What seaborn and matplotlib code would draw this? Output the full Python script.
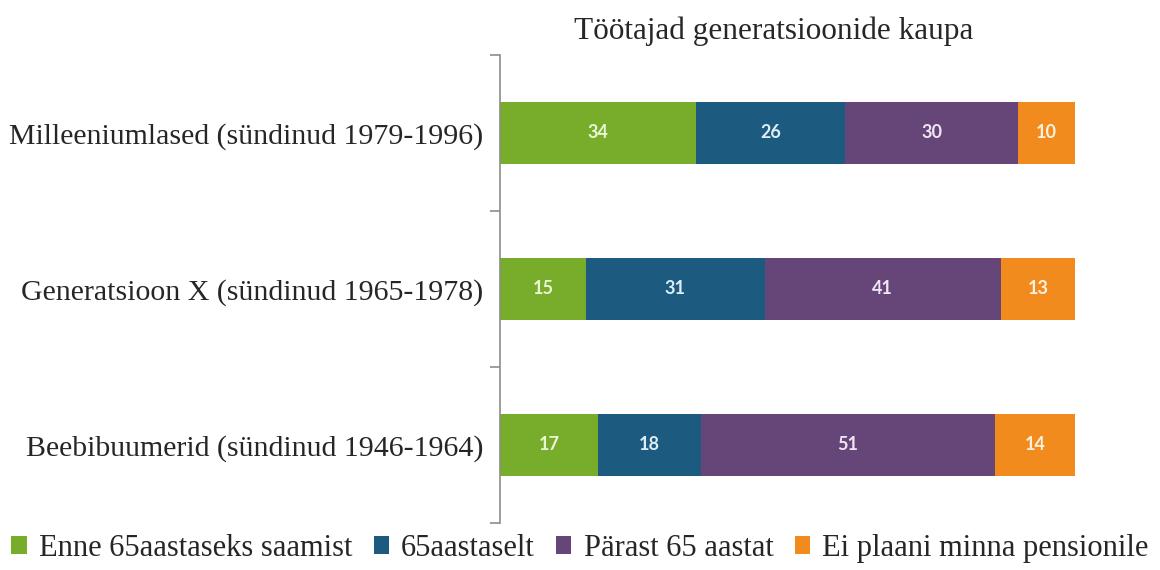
import pandas as pd
import seaborn as sns
import matplotlib.pyplot as plt
from matplotlib.patches import Patch

# andmed
groups = ["Milleeniumlased (sündinud 1979-1996)",
          "Generatsioon X (sündinud 1965-1978)",
          "Beebibuumerid (sündinud 1946-1964)"]
series_names = ["Enne 65aastaseks saamist", "65aastaselt", "Pärast 65 aastat", "Ei plaani minna pensionile"]
enne = [34, 15, 17]
vanus65 = [26, 31, 18]
parast = [30, 41, 51]
ei_plaani = [10, 13, 14]

colors = ["#78ad2b", "#1d5a80", "#664678", "#f18b1d"]
text_colors = ["#eaf6d6", "#dcedf8", "#efe6f4", "#fff1e0"]

df = pd.DataFrame({"grupp": groups, series_names[0]: enne, series_names[1]: vanus65,
                   series_names[2]: parast, series_names[3]: ei_plaani})
cum = df[series_names].cumsum(axis=1)

sns.set_style("white")
plt.rcParams["font.family"] = ["Liberation Serif", "DejaVu Serif"]

fig = plt.figure(figsize=(11.6, 5.7), dpi=100)
ax = fig.add_axes([0.431, 0.0825, 0.496, 0.821])

# virnastatud tulbad: suurimast kumulatiivsest alates
for i in reversed(range(len(series_names))):
    sns.barplot(x=cum[series_names[i]], y=df["grupp"], color=colors[i], orient="h",
                width=0.4, saturation=1, ax=ax, order=groups, linewidth=0, edgecolor="none")

for i, name in enumerate(series_names):
    for j, g in enumerate(groups):
        v = df[name][j]
        ax.text(cum[name][j] - v / 2, j, str(v), ha="center", va="center",
                color=text_colors[i], fontsize=13, fontweight="bold", family="Lato")

ax.set_xlim(0, 100)
ax.set_ylim(2.5, -0.5)
ax.set_xlabel("")
ax.set_ylabel("")
ax.set_xticks([])
for s in ["top", "right", "bottom"]:
    ax.spines[s].set_visible(False)
ax.spines["left"].set_color("#8c8c8c")
ax.spines["left"].set_linewidth(1.2)
ax.set_yticks([-0.5, 0.5, 1.5, 2.5], minor=True)
ax.tick_params(axis="y", which="minor", length=7, width=1.2, color="#8c8c8c", direction="out", left=True)
ax.tick_params(axis="y", which="major", length=0, pad=12, labelsize=21.5)

fig.text(0.667, 0.945, "Töötajad generatsioonide kaupa", ha="center", va="center", fontsize=22.5)

handles = [Patch(facecolor=c, edgecolor="none") for c in colors]
fig.legend(handles, series_names, loc="center", bbox_to_anchor=(0.5, 0.038), ncol=4,
           frameon=False, fontsize=22, handlelength=0.5, handleheight=0.5,
           handletextpad=0.4, columnspacing=0.7)

fig.savefig("out.png", dpi=100)
